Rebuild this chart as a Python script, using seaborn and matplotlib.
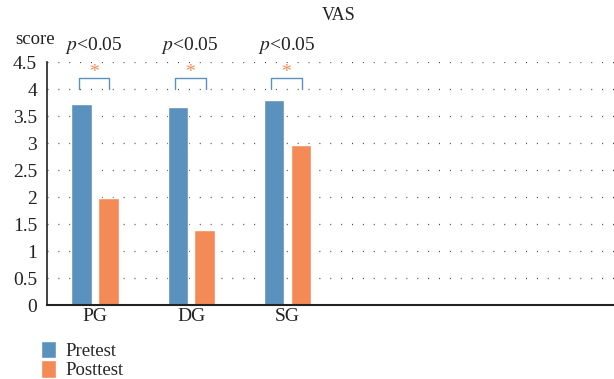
import matplotlib
matplotlib.use("Agg")
import matplotlib.pyplot as plt
import seaborn as sns
import pandas as pd

categories = ["PG", "DG", "SG"]
pretest = [3.72, 3.67, 3.80]
posttest = [1.98, 1.39, 2.96]
series = ["Pretest", "Posttest"]
yticks = [0, 0.5, 1, 1.5, 2, 2.5, 3, 3.5, 4, 4.5]
ytick_labels = ["0", "0.5", "1", "1.5", "2", "2.5", "3", "3.5", "4", "4.5"]
pvals = ["<0.05", "<0.05", "<0.05"]

df = pd.DataFrame({
    "group": categories * 2,
    "test": [series[0]] * 3 + [series[1]] * 3,
    "score": pretest + posttest,
})

sns.set_style("white")
plt.rcParams["font.family"] = ["Liberation Serif", "DejaVu Serif"]
plt.rcParams["mathtext.fontset"] = "stix"

blue = "#5b91bd"
orange = "#f48a55"
txt = "#222222"

fig = plt.figure(figsize=(6.14, 3.79), dpi=100)
ax = fig.add_axes([0.0765, 0.195, 0.9235, 0.641])

sns.barplot(data=df, x="group", y="score", hue="test", order=categories,
            hue_order=series, palette=[blue, orange], width=0.56, gap=0.25,
            saturation=1, ax=ax, legend=True)

ax.set_xlim(-0.5, 5.4)
ax.set_ylim(0, 4.5)
ax.set_yticks(yticks)
ax.set_yticklabels(ytick_labels)
ax.set_xlabel("")
ax.set_ylabel("")
ax.tick_params(axis="both", length=0, labelsize=14, colors=txt, pad=7)
ax.tick_params(axis="x", pad=2)

for s in ["top", "right"]:
    ax.spines[s].set_visible(False)
ax.spines["left"].set_color(txt)
ax.spines["bottom"].set_color(txt)
ax.spines["left"].set_linewidth(1.2)
ax.spines["bottom"].set_linewidth(1.5)

for y in yticks[1:]:
    ax.axhline(y, color="#444444", lw=0.9, linestyle=(0, (0.8, 7.9)), zorder=0)

# significance brackets
for i, p in enumerate(pvals):
    x0, x1 = i - 0.17, i + 0.15
    ax.plot([x0, x0, x1, x1], [4.01, 4.2, 4.2, 4.01], color=blue, lw=1.0,
            clip_on=False, zorder=3)
    ax.text((x0 + x1) / 2, 4.3, "*", color=orange, fontsize=14,
            ha="center", va="center", clip_on=False)
    ax.text((x0 + x1) / 2, 4.8, r"$p$" + p, fontsize=14,
            ha="center", va="center", color=txt, clip_on=False)

fig.text(0.057, 0.895, "score", fontsize=13.5, ha="center", va="center", color=txt)
fig.text(0.551, 0.96, "VAS", fontsize=13, ha="center", va="center", color=txt)

handles, labels = ax.get_legend_handles_labels()
ax.legend_.remove()
fig.legend(handles, labels, loc="upper left", bbox_to_anchor=(0.066, 0.1),
           frameon=False, fontsize=13.5, handlelength=0.85, handleheight=1.05,
           handletextpad=0.5, labelspacing=0.0, borderpad=0, borderaxespad=0)

fig.savefig("out.png", dpi=100)
